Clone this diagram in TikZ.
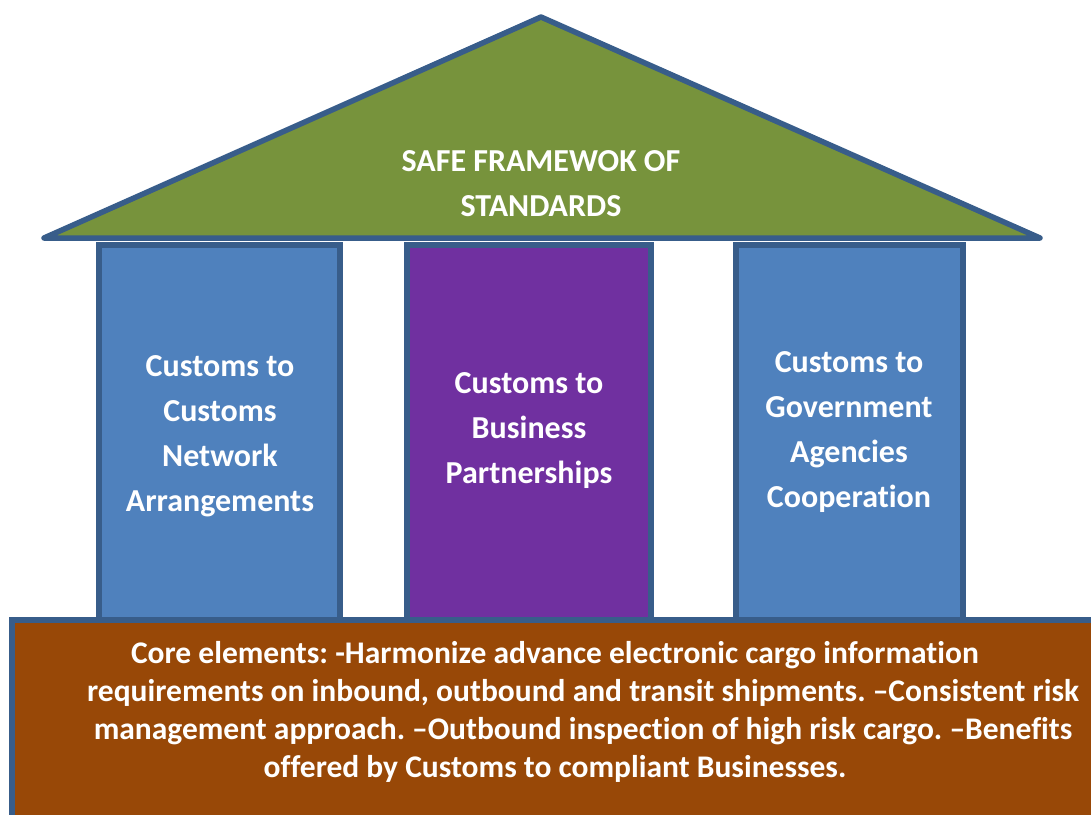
\documentclass[tikz,border=0pt]{standalone}
\usepackage{fontspec}
\setmainfont[Ligatures=NoCommon]{Carlito}
\definecolor{edge}{HTML}{385D8A}
\definecolor{roofgreen}{HTML}{77933C}
\definecolor{pillarblue}{HTML}{4F81BD}
\definecolor{pillarpurple}{HTML}{7030A0}
\definecolor{basebrown}{HTML}{984807}
\tikzset{
  pillar/.style={draw=edge, line width=6pt, rectangle, inner sep=0pt},
  whitetext/.style={text=white, font=\fontsize{32}{45}\selectfont\bfseries\frenchspacing, align=center, inner sep=0pt},
  basetext/.style={text=white, font=\fontsize{31.5}{38}\selectfont\bfseries\frenchspacing, align=center, inner sep=0pt}
}
\begin{document}
\begin{tikzpicture}[x=1pt,y=-1pt]
\useasboundingbox (0,0) rectangle (1091,814);
\clip (0,0) rectangle (1091,814);
% roof
\coordinate (roofL) at (44,238);
\coordinate (roofT) at (541,17);
\coordinate (roofR) at (1040,238);
\filldraw[fill=roofgreen, draw=edge, line width=5.5pt, line join=round] (roofL) -- (roofT) -- (roofR) -- cycle;
\node[whitetext] (rooftext) at (541,183.5) {SAFE FRAMEWOK OF\\STANDARDS};
% pillars
\node[pillar, fill=pillarblue, minimum width=241pt, minimum height=375pt] (p1) at (219.5,432.5) {};
\node[pillar, fill=pillarpurple, minimum width=244pt, minimum height=375pt] (p2) at (529,432.5) {};
\node[pillar, fill=pillarblue, minimum width=227pt, minimum height=375pt] (p3) at (849.5,432.5) {};
\node[whitetext] (t1) at (220,436.5) {Customs to\\Customs\\Network\\Arrangements};
\node[whitetext] (t2) at (529,431) {Customs to\\Business\\Partnerships};
\node[whitetext] (t3) at (849,432) {Customs to\\Government\\Agencies\\Cooperation};
% base
\node[pillar, fill=basebrown, minimum width=1100pt, minimum height=220pt] (base) at (562,730) {};
\node[basetext] (bt) at (583,711.5) {Core elements: -Harmonize advance electronic cargo information\hspace*{56pt}\\requirements on inbound, outbound and transit shipments. –Consistent risk\\management approach. –Outbound inspection of high risk cargo. –Benefits\\offered by Customs to compliant Businesses.\hspace*{56pt}};
\end{tikzpicture}
\end{document}
